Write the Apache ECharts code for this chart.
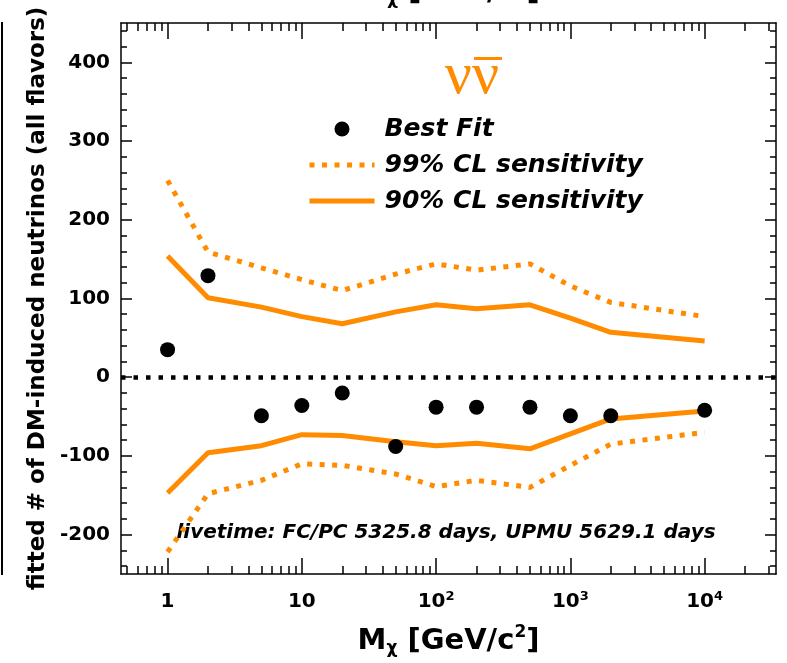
<!DOCTYPE html>
<html>
<head>
<meta charset="utf-8">
<script src="https://cdn.jsdelivr.net/npm/echarts@6/dist/echarts.min.js"></script>
<style>
html, body { margin: 0; padding: 0; background: #fff; }
#box { width: 787px; height: 663px; }
</style>
</head>
<body>
<div id="box"></div>
<script>
// DM mass points [GeV/c^2]
const masses = [1, 2, 5, 10, 20, 50, 100, 200, 500, 1000, 2000, 10000]
const bestFit = [35, 129, -49, -36, -20, -88, -38, -38, -38, -49, -49, -42]
const cl90Up = [154, 101, 89, 77, 68, 83, 92, 87, 92, 75, 57, 46]
const cl90Low = [-147, -96, -87, -73, -74, -82, -87, -84, -91, -72, -53, -43]
const cl99Up = [250, 159, 139, 124, 110, 131, 144, 136, 144, 116, 95, 77]
const cl99Low = [-222, -148, -131, -110, -112, -123, -139, -131, -140, -112, -85, -70]

// tick values
const xMajor = [1, 10, 100, 1000, 10000]
const xMinor = [0.5, 0.6, 0.7, 0.8, 0.9, 2, 3, 4, 5, 6, 7, 8, 9, 20, 30, 40, 50, 60, 70, 80, 90,
    200, 300, 400, 500, 600, 700, 800, 900, 2000, 3000, 4000, 5000, 6000, 7000, 8000, 9000, 20000, 30000]
const yMajor = [-200, -100, 0, 100, 200, 300, 400]
const yMinor = [-240, -220, -180, -160, -140, -120, -80, -60, -40, -20, 20, 40, 60, 80,
    120, 140, 160, 180, 220, 240, 260, 280, 320, 340, 360, 380, 420, 440]

const ORANGE = '#ff8c00'
const FONT = '"DejaVu Sans", "Liberation Sans", sans-serif'
const toXY = arr => masses.map((m, i) => [m, arr[i]])

const titleText = '{m|M}{c|χ}{m| [GeV/c}{p|2}{m|]}'
const titleRich = {
    m: {fontFamily: FONT, fontWeight: 'bold', fontSize: 29, color: '#000', lineHeight: 34},
    c: {fontFamily: FONT, fontWeight: 'bold', fontSize: 17, color: '#000', verticalAlign: 'top', lineHeight: 17, padding: [16, 0, 0, 0]},
    p: {fontFamily: FONT, fontWeight: 'bold', fontSize: 17, color: '#000', verticalAlign: 'top', lineHeight: 17}
}

function xAx(position, ticks, len, withLabels) {
    return {
        type: 'log', position: position, min: 0.45, max: 34000,
        axisLine: {show: withLabels, onZero: false, lineStyle: {color: '#000', width: 1.5}},
        axisTick: {show: true, inside: true, length: len, customValues: ticks,
            lineStyle: {color: '#000', width: 1.5}},
        axisLabel: {show: withLabels && position == 'bottom', customValues: xMajor, margin: 16,
            formatter: v => {
                if (v < 5) return '{a|1}'
                if (v < 50) return '{a|10}'
                return '{a|10}{s|' + Math.round(Math.log10(v)) + '}'
            },
            rich: {
                a: {fontFamily: FONT, fontWeight: 'bold', fontSize: 20, color: '#000', lineHeight: 24},
                s: {fontFamily: FONT, fontWeight: 'bold', fontSize: 13, color: '#000', verticalAlign: 'top', lineHeight: 14}
            }
        },
        splitLine: {show: false}
    }
}

function yAx(position, ticks, len, withLabels) {
    return {
        type: 'value', position: position, min: -250, max: 450,
        axisLine: {show: withLabels, onZero: false, lineStyle: {color: '#000', width: 1.5}},
        axisTick: {show: true, inside: true, length: len, customValues: ticks,
            lineStyle: {color: '#000', width: 1.5}},
        axisLabel: {show: withLabels && position == 'left', customValues: yMajor, margin: 11,
            fontFamily: FONT, fontWeight: 'bold', fontSize: 20, color: '#000'},
        splitLine: {show: false}
    }
}

const xAxes = [xAx('bottom', xMajor, 16, true), xAx('bottom', xMinor, 8, false),
    xAx('top', xMajor, 16, true), xAx('top', xMinor, 8, false)]
xAxes[0].name = titleText
xAxes[0].nameLocation = 'middle'
xAxes[0].nameGap = 50
xAxes[0].nameTextStyle = {rich: titleRich}

const yAxes = [yAx('left', yMajor, 11, true), yAx('left', yMinor, 6, false),
    yAx('right', yMajor, 11, true), yAx('right', yMinor, 6, false)]
yAxes[0].name = 'fitted # of DM-induced neutrinos (all flavors)'
yAxes[0].nameLocation = 'middle'
yAxes[0].nameRotate = 90
yAxes[0].nameGap = 70
yAxes[0].nameTextStyle = {fontFamily: FONT, fontWeight: 'bold', fontSize: 23, color: '#000'}

function band(name, arr, dash) {
    return {
        name: name, type: 'line', data: toXY(arr), symbol: 'none',
        lineStyle: {color: ORANGE, width: 5, type: dash},
        itemStyle: {color: ORANGE}, z: 3
    }
}

const noDot = {color: 'rgba(0,0,0,0)', borderWidth: 0, opacity: 0}

const plot = echarts.init(document.getElementById('box'))
plot.setOption({
    animation: false,
    grid: {left: 121, right: 11, top: 23, bottom: 89, containLabel: false},
    xAxis: xAxes,
    yAxis: yAxes,
    legend: {
        orient: 'vertical', left: 302, top: 111,
        itemWidth: 65, itemHeight: 15, itemGap: 10,
        lineStyle: {width: 5},
        textStyle: {fontFamily: FONT, fontWeight: 'bold', fontStyle: 'italic', fontSize: 25,
            color: '#000', lineHeight: 26, padding: [0, 0, 0, 5]},
        data: [
            {name: 'Best Fit', icon: 'circle', itemStyle: {color: '#000', opacity: 1}},
            {name: '99% CL sensitivity', itemStyle: noDot},
            {name: '90% CL sensitivity', itemStyle: noDot}
        ]
    },
    series: [
        band('99% CL sensitivity', cl99Up, [5, 7.5]),
        band('99% CL sensitivity', cl99Low, [5, 7.5]),
        band('90% CL sensitivity', cl90Up, 'solid'),
        band('90% CL sensitivity', cl90Low, 'solid'),
        {
            name: 'Best Fit', type: 'scatter', data: toXY(bestFit),
            symbol: 'circle', symbolSize: 15, itemStyle: {color: '#000', opacity: 1}, z: 5,
            markLine: {
                silent: true, symbol: ['none', 'none'], label: {show: false},
                lineStyle: {color: '#000', width: 4.5, type: [4.5, 8], opacity: 1},
                data: [{yAxis: 0}]
            }
        }
    ],
    graphic: [
        {type: 'text', x: 472, y: 77, style: {text: 'νν', font: '60px "Liberation Serif", serif',
            fill: ORANGE, align: 'center', verticalAlign: 'middle'}},
        {type: 'rect', shape: {x: 474, y: 57, width: 28, height: 3}, style: {fill: ORANGE}},
        {type: 'text', x: 446, y: 533, style: {text: 'livetime: FC/PC 5325.8 days, UPMU 5629.1 days',
            font: 'italic bold 20px "DejaVu Sans"', fill: '#000', align: 'center', verticalAlign: 'middle'}},
        {type: 'line', shape: {x1: 2, y1: 22, x2: 2, y2: 575}, style: {stroke: '#000', lineWidth: 2}},
        {type: 'text', x: 449, y: -8, style: {text: titleText, rich: titleRich, align: 'center', verticalAlign: 'middle'}}
    ]
})
</script>
</body>
</html>
